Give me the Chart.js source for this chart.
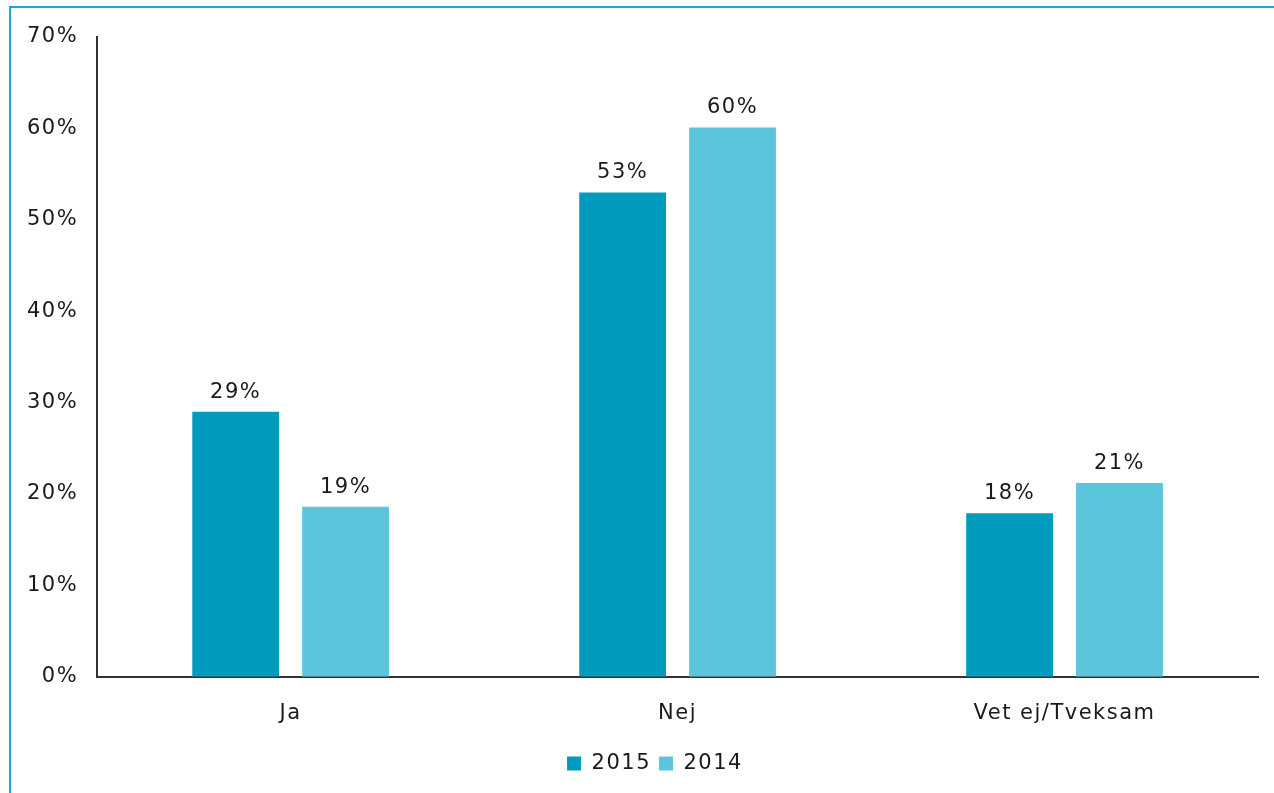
<!DOCTYPE html>
<html>
<head>
<meta charset="utf-8">
<script src="https://cdn.jsdelivr.net/npm/chart.js@4/dist/chart.umd.min.js"></script>
<style>
  html, body { margin: 0; padding: 0; background: #fff; overflow: hidden; }
  #frame {
    position: absolute; left: 9px; top: 6px; width: 1300px; height: 820px;
    border-left: 2px solid #1ba9cb; border-top: 2px solid #1ba9cb;
  }
  #wrap { position: absolute; left: 0; top: 0; width: 1274px; height: 793px; }
</style>
</head>
<body>
<div id="frame"></div>
<div id="wrap"><canvas id="chart"></canvas></div>
<script>
const categories = ['Ja', 'Nej', 'Vet ej/Tveksam'];
const values2015 = [29, 53, 17.9];
const values2014 = [18.6, 60.1, 21.2];
const yTicks = [0, 10, 20, 30, 40, 50, 60, 70];

const color2015 = '#009bbd';
const color2014 = '#5bc5db';
const fontFamily = "'DejaVu Sans', Verdana, sans-serif";
const fontSize = 21;
const spacing = '1.5px';

// the original font is wider than DejaVu, so space the letters a bit
const wideText = {
  id: 'wideText',
  beforeInit(chart) { chart.ctx.letterSpacing = spacing; },
  beforeLayout(chart) { chart.ctx.letterSpacing = spacing; },
  beforeDraw(chart) { chart.ctx.letterSpacing = spacing; },
  // legend sits a little right of the canvas centre in the original
  afterLayout(chart) {
    chart.legend.left += 22;
    chart.legend.right += 22;
  }
};

// draws the value labels above each bar
const barLabels = {
  id: 'barLabels',
  afterDatasetsDraw(chart) {
    const ctx = chart.ctx;
    ctx.save();
    ctx.font = `${fontSize}px ${fontFamily}`;
    ctx.fillStyle = '#1a1a1a';
    ctx.textAlign = 'center';
    ctx.textBaseline = 'bottom';
    chart.data.datasets.forEach((ds, i) => {
      chart.getDatasetMeta(i).data.forEach((bar, j) => {
        ctx.fillText(Math.round(ds.data[j]) + '%', bar.x, bar.y - 9);
      });
    });
    ctx.restore();
  }
};

new Chart(document.getElementById('chart'), {
  type: 'bar',
  data: {
    labels: categories,
    datasets: [
      { label: '2015', data: values2015, backgroundColor: color2015 },
      { label: '2014', data: values2014, backgroundColor: color2014 }
    ]
  },
  options: {
    responsive: true,
    maintainAspectRatio: false,
    animation: false,
    layout: { padding: { left: 8, right: 16, top: 37, bottom: 9 } },
    datasets: {
      bar: { categoryPercentage: 0.568, barPercentage: 0.79 }
    },
    scales: {
      x: {
        grid: { display: false, drawTicks: false },
        border: { color: '#333', width: 2 },
        ticks: { color: '#1a1a1a', font: { family: fontFamily, size: fontSize }, padding: 24 },
        afterFit: (scale) => { scale.height -= 5; }
      },
      y: {
        min: 0,
        max: 70,
        afterBuildTicks: (axis) => { axis.ticks = yTicks.map((v) => ({ value: v })); },
        grid: { display: false, drawTicks: false },
        border: { color: '#333', width: 2 },
        ticks: {
          color: '#1a1a1a',
          font: { family: fontFamily, size: fontSize },
          padding: 19,
          callback: (v) => v + '%'
        }
      }
    },
    plugins: {
      legend: {
        position: 'bottom',
        labels: {
          color: '#1a1a1a',
          font: { family: fontFamily, size: fontSize },
          boxWidth: 14,
          boxHeight: 14,
          padding: 8
        }
      },
      tooltip: { enabled: false }
    }
  },
  plugins: [wideText, barLabels]
});
</script>
</body>
</html>
